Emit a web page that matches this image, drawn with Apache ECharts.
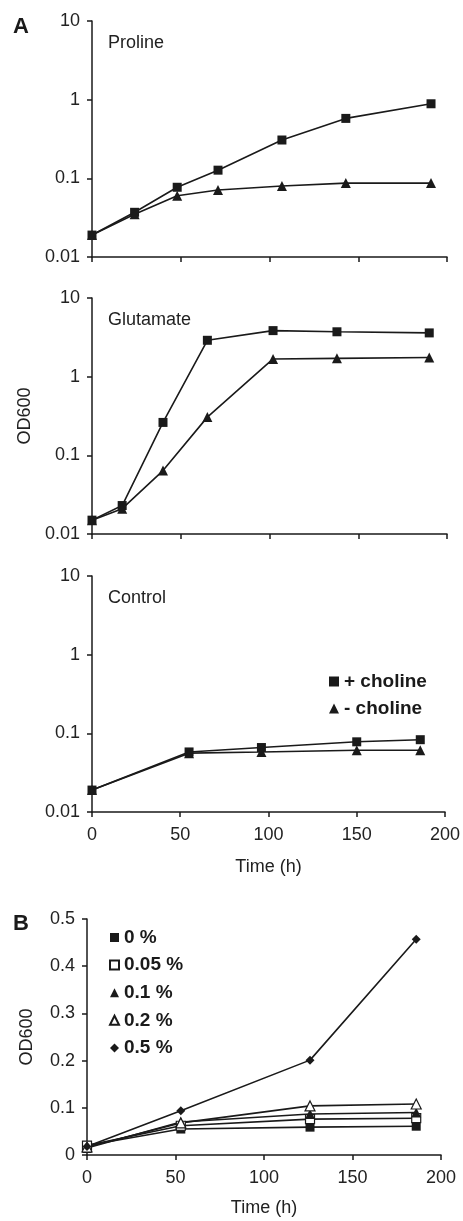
<!DOCTYPE html>
<html>
<head>
<meta charset="utf-8">
<script src="https://cdn.jsdelivr.net/npm/echarts@6/dist/echarts.min.js"></script>
<style>
  html, body { margin: 0; padding: 0; background: #fff; }
  #chart { width: 463px; height: 1221px; }
</style>
</head>
<body>
<div id="chart"></div>
<script>
// Panel A: growth on proline, glutamate and control, +/- choline (log OD600)
const prolineTime = [0, 24, 48, 71, 107, 143, 191];
const prolinePlus = [0.019, 0.037, 0.077, 0.127, 0.307, 0.578, 0.887];
const prolineMinus = [0.019, 0.035, 0.060, 0.071, 0.080, 0.087, 0.087];

const glutamateTime = [0, 17, 40, 65, 102, 138, 190];
const glutamatePlus = [0.015, 0.023, 0.262, 2.9, 3.85, 3.72, 3.6];
const glutamateMinus = [0.015, 0.021, 0.064, 0.306, 1.68, 1.71, 1.75];

const controlTime = [0, 55, 96, 150, 186];
const controlPlus = [0.019, 0.058, 0.066, 0.078, 0.083];
const controlMinus = [0.019, 0.056, 0.058, 0.061, 0.061];

const logTicks = ['0.01', '0.1', '1', '10'];

// Panel B: choline concentrations (linear OD600)
const bTime = [0, 53, 126, 186];
const b0 = [0.020, 0.055, 0.059, 0.061];
const b005 = [0.020, 0.062, 0.076, 0.078];
const b01 = [0.015, 0.070, 0.087, 0.090];
const b02 = [0.017, 0.068, 0.104, 0.108];
const b05 = [0.018, 0.094, 0.201, 0.457];
const bNames = ['0 %', '0.05 %', '0.1 %', '0.2 %', '0.5 %'];

const FONT = 'Liberation Sans';
const INK = '#1a1a1a';

function zip(xs, ys) {
    return xs.map((x, i) => [x, ys[i]]);
}

const axisLine = { onZero: false, lineStyle: { color: INK, width: 1.5 } };
const axisTick = { length: 5, lineStyle: { color: INK, width: 1.5 } };
const labelStyle = { color: '#222', fontFamily: FONT, fontSize: 18 };

function xAxisFor(grid, showLabels, gap) {
    return {
        type: 'value', gridIndex: grid, min: 0, max: 200, interval: 50,
        axisLine, axisTick, splitLine: { show: false },
        axisLabel: Object.assign({ show: showLabels, margin: 14 }, labelStyle),
        name: showLabels ? 'Time (h)' : '', nameLocation: 'middle', nameGap: gap,
        nameTextStyle: labelStyle
    };
}

function logAxisFor(grid, name) {
    return {
        type: 'log', logBase: 10, gridIndex: grid, min: 0.01, max: 10,
        axisLine, axisTick, splitLine: { show: false }, minorTick: { show: false },
        axisLabel: Object.assign({
            margin: 12,
            formatter: v => logTicks.find(t => Math.abs(+t - v) < v * 0.01) || ''
        }, labelStyle),
        name: name, nameLocation: 'middle', nameGap: 57, nameRotate: 90,
        nameTextStyle: labelStyle
    };
}

function lineSeries(name, grid, data, symbol, size, open) {
    return {
        type: 'line', name: name, xAxisIndex: grid, yAxisIndex: grid,
        data: data, symbol: symbol, symbolSize: size,
        showAllSymbol: true,
        lineStyle: { color: INK, width: 1.6 },
        itemStyle: open
            ? { color: '#fff', borderColor: INK, borderWidth: 1.2 }
            : { color: INK, borderColor: INK, borderWidth: 0 },
        emphasis: { disabled: true },
        animation: false
    };
}

const titleStyle = { fontFamily: FONT, fontSize: 18, fontWeight: 'normal', color: '#222' };
const panelStyle = { fontFamily: FONT, fontSize: 22, fontWeight: 'bold', color: INK };

const chart = echarts.init(document.getElementById('chart'), null, { renderer: 'canvas' });

chart.setOption({
    backgroundColor: '#fff',
    animation: false,
    title: [
        { text: 'A', left: 8, top: 11, textStyle: panelStyle },
        { text: 'B', left: 8, top: 908, textStyle: panelStyle },
        { text: 'Proline', left: 103, top: 29, textStyle: titleStyle },
        { text: 'Glutamate', left: 103, top: 306, textStyle: titleStyle },
        { text: 'Control', left: 103, top: 584, textStyle: titleStyle }
    ],
    legend: [
        {
            orient: 'vertical', left: 324, top: 667, itemGap: 8,
            itemWidth: 10, itemHeight: 10, selectedMode: false,
            textStyle: { fontFamily: FONT, fontSize: 19, fontWeight: 'bold', color: INK },
            data: [
                { name: '+ choline', icon: 'rect' },
                { name: '- choline', icon: 'triangle' }
            ]
        },
        {
            orient: 'vertical', left: 104, top: 923, itemGap: 8.6,
            itemWidth: 9, itemHeight: 9, selectedMode: false,
            textStyle: { fontFamily: FONT, fontSize: 19, fontWeight: 'bold', color: INK },
            data: [
                { name: bNames[0], icon: 'rect' },
                { name: bNames[1], icon: 'rect' },
                { name: bNames[2], icon: 'triangle' },
                { name: bNames[3], icon: 'triangle' },
                { name: bNames[4], icon: 'diamond' }
            ]
        }
    ],
    grid: [
        { left: 92, right: 16, top: 21, height: 236 },
        { left: 92, right: 16, top: 298, height: 236 },
        { left: 92, right: 16, top: 576, height: 236 },
        { left: 87, right: 22, top: 919, height: 236 }
    ],
    xAxis: [
        xAxisFor(0, false, 46),
        xAxisFor(1, false, 46),
        xAxisFor(2, true, 46),
        xAxisFor(3, true, 44)
    ],
    yAxis: [
        logAxisFor(0, ''),
        logAxisFor(1, 'OD600'),
        logAxisFor(2, ''),
        {
            type: 'value', gridIndex: 3, min: 0, max: 0.5, interval: 0.1,
            axisLine, axisTick, splitLine: { show: false },
            axisLabel: Object.assign({ margin: 12 }, labelStyle),
            name: 'OD600', nameLocation: 'middle', nameGap: 51, nameRotate: 90,
            nameTextStyle: labelStyle
        }
    ],
    series: [
        lineSeries('+ choline', 0, zip(prolineTime, prolinePlus), 'rect', 9, false),
        lineSeries('- choline', 0, zip(prolineTime, prolineMinus), 'triangle', 10, false),
        lineSeries('+ choline', 1, zip(glutamateTime, glutamatePlus), 'rect', 9, false),
        lineSeries('- choline', 1, zip(glutamateTime, glutamateMinus), 'triangle', 10, false),
        lineSeries('+ choline', 2, zip(controlTime, controlPlus), 'rect', 9, false),
        lineSeries('- choline', 2, zip(controlTime, controlMinus), 'triangle', 10, false),
        lineSeries(bNames[0], 3, zip(bTime, b0), 'rect', 9, false),
        lineSeries(bNames[1], 3, zip(bTime, b005), 'rect', 9, true),
        lineSeries(bNames[2], 3, zip(bTime, b01), 'triangle', 10, false),
        lineSeries(bNames[3], 3, zip(bTime, b02), 'triangle', 10, true),
        lineSeries(bNames[4], 3, zip(bTime, b05), 'diamond', 9, false)
    ]
});
</script>
</body>
</html>
